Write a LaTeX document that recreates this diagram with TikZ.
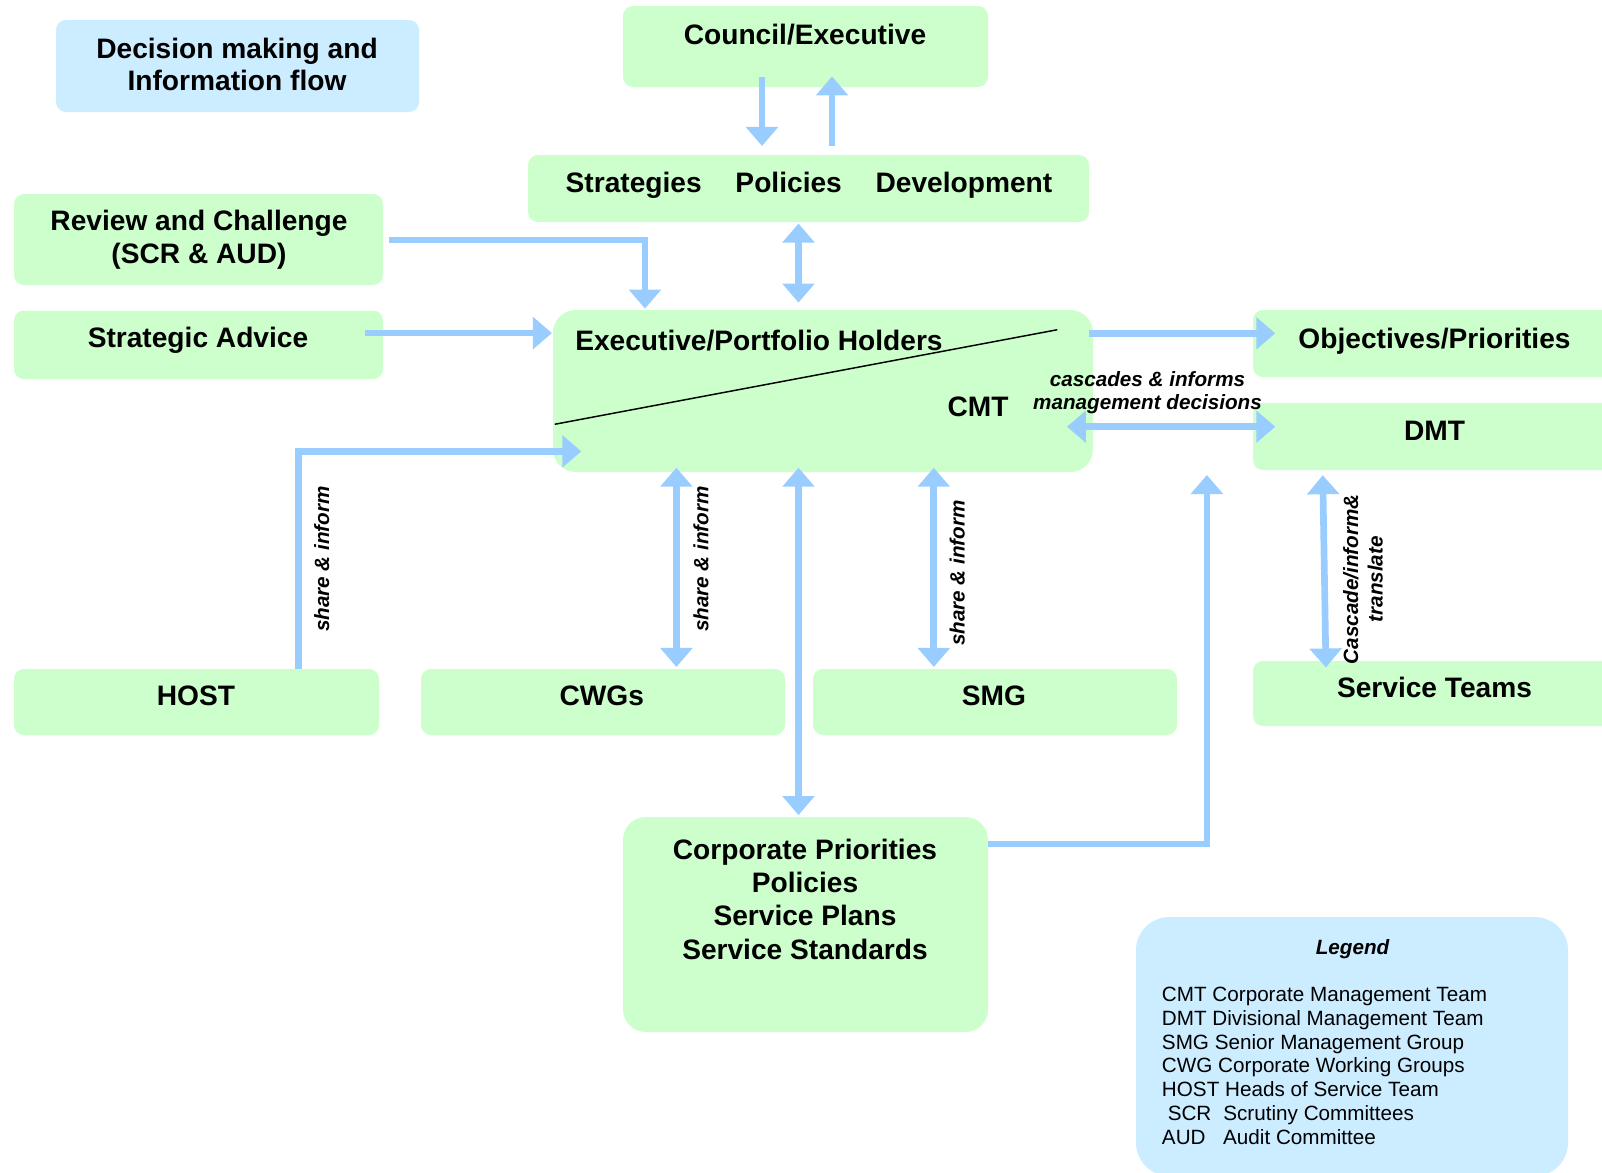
\documentclass[tikz,border=0pt]{standalone}
\usepackage{fontspec}
\setmainfont{Liberation Sans}
\usetikzlibrary{arrows.meta,calc,fit}
\definecolor{gfill}{HTML}{CCFFCC}
\definecolor{bfill}{HTML}{CCECFF}
\definecolor{arrc}{HTML}{99CCFF}
\begin{document}
\begin{tikzpicture}[x=0.75pt,y=-0.75pt,
  gbox/.style={fill=gfill,draw=none,rounded corners=7.5pt,inner sep=0pt},
  rbox/.style={fill=gfill,draw=none,rounded corners=17pt,inner sep=0pt},
  bbox/.style={fill=bfill,draw=none,rounded corners=7.5pt,inner sep=0pt},
  lbox/.style={fill=bfill,draw=none,rounded corners=25pt,inner sep=0pt},
  btxt/.style={font=\fontsize{21.1}{24.5}\selectfont\bfseries,inner sep=0pt,align=center},
  ctxt/.style={font=\fontsize{21.1}{25}\selectfont\bfseries,inner sep=0pt,align=center},
  itxt/.style={font=\fontsize{15.5}{17.6}\selectfont\bfseries\itshape,inner sep=0pt,align=center},
  rtxt/.style={font=\fontsize{15.5}{18.4}\selectfont\bfseries\itshape,inner sep=0pt,align=center,rotate=90},
  ltxt/.style={font=\fontsize{15.5}{17.9}\selectfont,inner sep=0pt,align=left},
  arr/.style={draw=arrc,line width=5pt,-{Triangle[length=14.25pt,width=23.5pt]}},
  darr/.style={draw=arrc,line width=5pt,{Triangle[length=14.25pt,width=23.5pt]}-{Triangle[length=14.25pt,width=23.5pt]}}
]
\useasboundingbox (0,0) rectangle (1602,1172);
\clip (0,0) rectangle (1602,1172);
\fill[white] (0,0) rectangle (1602,1172);

% boxes
\node[bbox,fit={(56,20) (419,112)}] (title) {};
\node[gbox,fit={(623,6) (988,87)}] (council) {};
\node[gbox,fit={(528,155) (1089,222)}] (strat) {};
\node[gbox,fit={(14,194) (383,285)}] (review) {};
\node[gbox,fit={(14,310.5) (383,379)}] (advice) {};
\node[rbox,fit={(553,310) (1093,472)}] (exec) {};
\node[gbox,fit={(1253,310) (1625,377)}] (obj) {};
\node[gbox,fit={(1253,403) (1625,470)}] (dmt) {};
\node[gbox,fit={(1253,661) (1625,726)}] (svc) {};
\node[gbox,fit={(14,669) (379,735)}] (host) {};
\node[gbox,fit={(421,669) (785,735)}] (cwg) {};
\node[gbox,fit={(813,669) (1177,735)}] (smg) {};
\node[rbox,fit={(623,817) (988,1032)}] (corp) {};
\node[lbox,fit={(1136,917) (1568,1176)}] (legend) {};

% texts
\node[btxt] (titleT) at (237,64.5) {Decision making and\\Information flow};
\node[btxt,anchor=base] (councilT) at (805,44) {Council/Executive};
\node[btxt,anchor=base] (stratT) at (809,192.7) {Strategies\hspace{1.2em}Policies\hspace{1.2em}Development};
\node[btxt] (reviewT) at (199,240) {Review and Challenge\\(SCR \& AUD)};
\node[btxt,anchor=base] (adviceT) at (198,347.2) {Strategic Advice};
\node[btxt,anchor=base west] (execT) at (575,350) {Executive/Portfolio Holders};
\node[btxt,anchor=base] (cmtT) at (978,416.7) {CMT};
\node[btxt,anchor=base] (objT) at (1434.5,348.2) {Objectives/Priorities};
\node[btxt,anchor=base] (dmtT) at (1434.5,440) {DMT};
\node[btxt,anchor=base] (svcT) at (1434.5,697.6) {Service Teams};
\node[btxt,anchor=base] (hostT) at (196,705.8) {HOST};
\node[btxt,anchor=base] (cwgT) at (601.8,705.8) {CWGs};
\node[btxt,anchor=base] (smgT) at (994,705.8) {SMG};
\node[ctxt] (corpT) at (805,899) {Corporate Priorities\\Policies\\Service Plans\\Service Standards};

% diagonal divider
\draw[line width=1.1pt] ($(exec.south west)+(2,-48)$) -- ($(exec.north east)+(-36,20)$);

% connectors
\draw[arr] (council.south) ++(-43.5,-10.3) -- ++(0,69);
\draw[arr] (strat.north) ++(23.5,-9) -- ++(0,-69.3);
\draw[darr] (strat.south) ++(-10,1.3) -- ++(0,79);
\draw[arr] (review.east) ++(5.3,0.5) -| ++(256.4,68.6);
\draw[arr] (advice.east) ++(-18.3,-11.7) -- ++(187,0);
\draw[arr] (host.north) ++(101.8,0) |- ++(283,-217.4);
\draw[darr] (cwg.north) ++(73.4,-1.8) -- ++(0,-199.2);
\draw[darr] (corp.north) ++(-7,-1.7) -- ++(0,-347.3);
\draw[darr] (smg.north) ++(-61.2,-1.8) -- ++(0,-199.2);
\draw[arr] (corp.east) ++(0,-80.5) -| ++(218.6,-369);
\draw[arr] (exec.east) ++(-4,-57.7) -- ++(186,0);
\draw[darr] (exec.east) ++(-26.3,35.7) -- ++(208.3,0);
\draw[darr] (dmt.south west) ++(70,5) -- ++(3.2,192.2);

% connector labels
\node[itxt] (casc) at (1147.5,392.5) {cascades \& informs\\management decisions};
\node[rtxt] (shareA) at (321.8,559) {share \& inform};
\node[rtxt] (shareB) at (701,559) {share \& inform};
\node[rtxt] (shareC) at (957.3,573) {share \& inform};
\node[rtxt] (cascB) at (1363,579.3) {Cascade/inform\&\\translate};

% legend
\node[itxt,anchor=base] (legT) at (1352.5,954) {Legend};
\node[ltxt,anchor=west] (legL) at (1161.7,1065.8) {CMT Corporate Management Team\\DMT Divisional Management Team\\SMG Senior Management Group\\CWG Corporate Working Groups\\HOST Heads of Service Team\\\hspace{0.28em}SCR\hspace{0.58em}Scrutiny Committees\\AUD\hspace{0.85em}Audit Committee};
\end{tikzpicture}
\end{document}
